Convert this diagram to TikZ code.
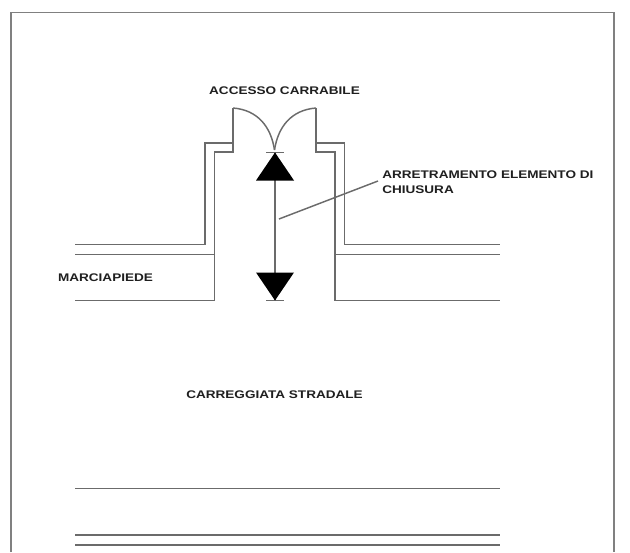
\documentclass[tikz,border=0pt]{standalone}
\usepackage{fontspec}
\setmainfont{Liberation Sans}
\newfontfamily\lblfont[FakeStretch=1.225]{Liberation Sans Bold}
\begin{document}
\begin{tikzpicture}[x=0.75pt,y=-0.75pt,
  ln/.style={draw=black!58,line width=1.1pt,line join=miter},
  lbl/.style={inner sep=0pt,font=\fontsize{8.3pt}{11.2pt}\lblfont,text=black!88,align=left},
  tri/.style={fill=black,draw=none}]
\useasboundingbox (0,0) rectangle (630,552);
\draw[ln,draw=black!50,line width=1.4pt] (11,552) -- (11,12.5) -- (614,12.5) -- (614,552);
% road edges left
\draw[ln] (75,244.5) -- (205,244.5) -- (205,143) -- (233,143);
\draw[ln] (75,254.5) -- (214.5,254.5);
\draw[ln] (75,300.5) -- (214.5,300.5) -- (214.5,152) -- (233,152) -- (233,108);
\draw[ln] (316,108) -- (316,152) -- (335,152) -- (335,300.5) -- (500,300.5);
\draw[ln] (316,143) -- (344.5,143) -- (344.5,244.5) -- (500,244.5);
\draw[ln] (335,254.5) -- (500,254.5);
% gate leaves
\draw[ln] (233,108) .. controls (258,110) and (271,127) .. (274.5,150);
\draw[ln] (316,108) .. controls (291,110) and (278,127) .. (274.5,150);
% bottom lines
\draw[ln] (75,488.5) -- (500,488.5);
\draw[ln] (75,535) -- (500,535);
\draw[ln] (75,545) -- (500,545);
% dimension
\coordinate (ttop) at (275,152.5);
\coordinate (tbot) at (275,300.5);
\draw[ln] (266,152.5) -- (284,152.5);
\draw[ln] (266,300.5) -- (284,300.5);
\draw[ln] (ttop) -- (tbot);
\fill[tri] (ttop) -- (256,180.5) -- (294,180.5) -- cycle;
\fill[tri] (tbot) -- (256,272.5) -- (294,272.5) -- cycle;
% leader
\coordinate (l1) at (279,219);
\coordinate (l2) at (378,181);
\draw[ln] (l1) -- (l2);
% labels
\node[lbl,anchor=center] (acc) at (284.5,91) {ACCESSO CARRABILE};
\node[lbl,anchor=north west] (arr) at (382,170.5) {ARRETRAMENTO ELEMENTO DI\\CHIUSURA};
\node[lbl,anchor=center] (mar) at (105.5,278) {MARCIAPIEDE};
\node[lbl,anchor=center] (car) at (274.5,394.5) {CARREGGIATA STRADALE};
\end{tikzpicture}
\end{document}
